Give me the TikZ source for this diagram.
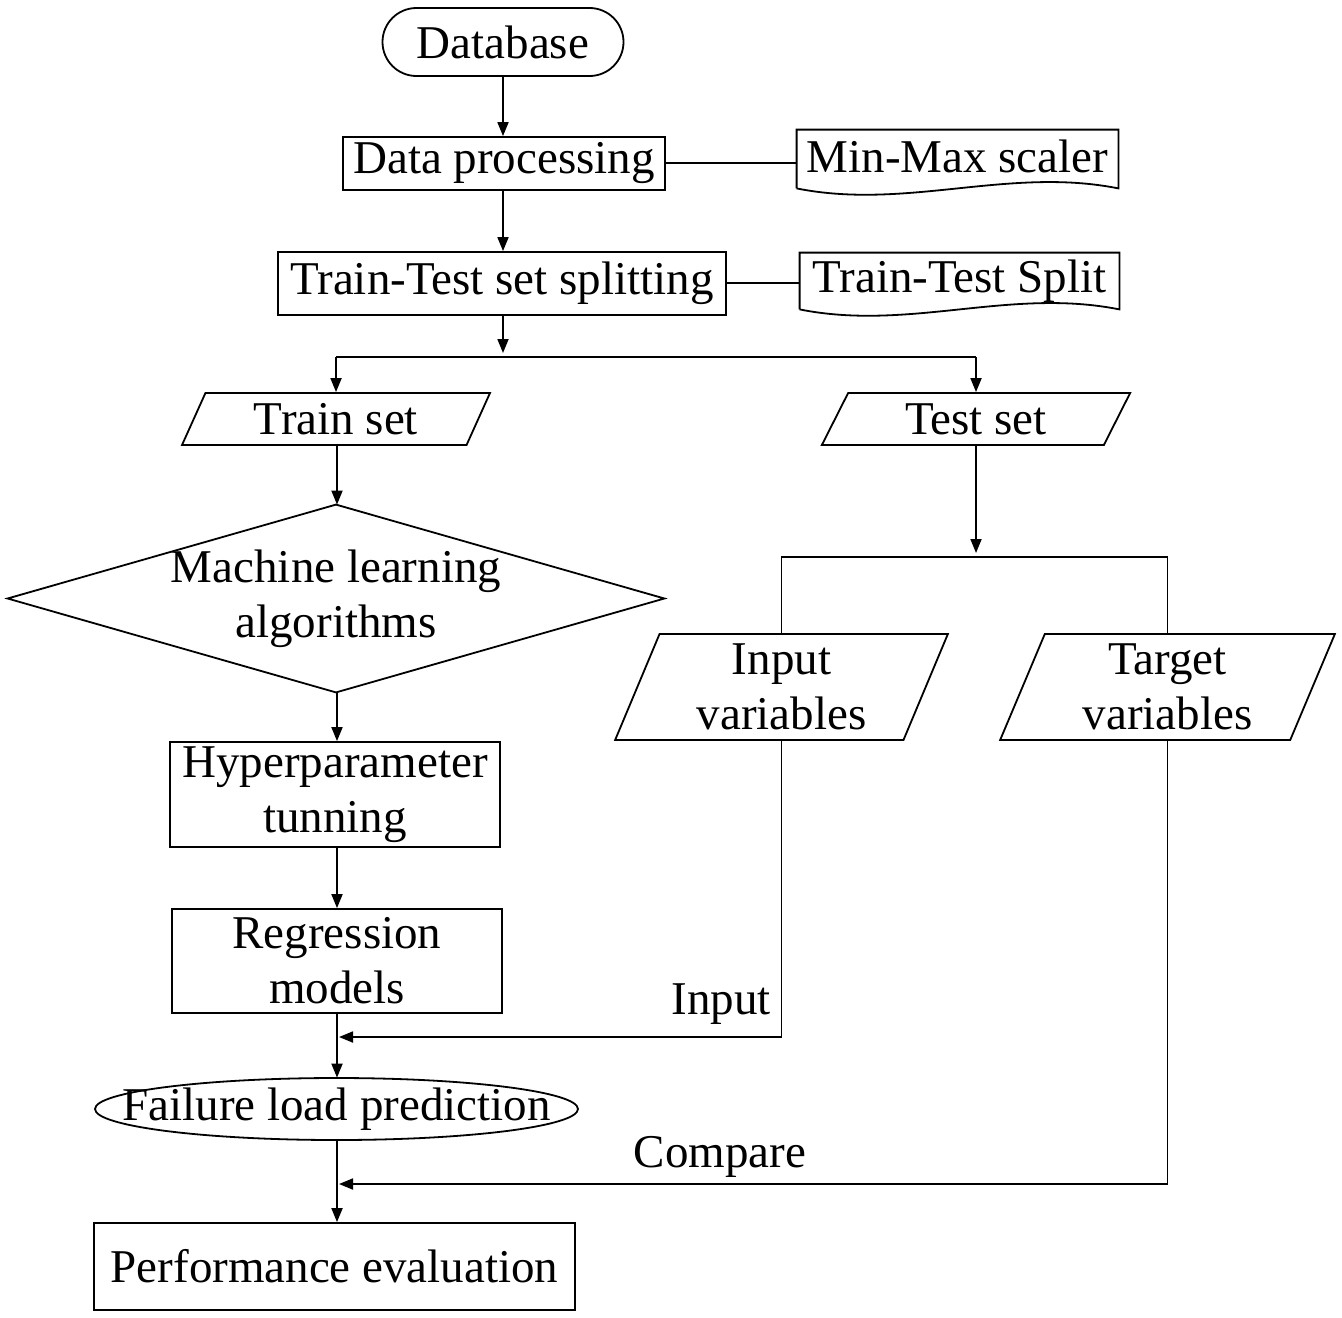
\documentclass[tikz,border=0pt]{standalone}
\usepackage{fontspec}
\setmainfont{Liberation Serif}
\usetikzlibrary{arrows.meta,shapes.geometric,calc}
\begin{document}
\begin{tikzpicture}[x=0.5pt,y=-0.5pt,
  every node/.style={font=\fontsize{23.5}{27.5}\selectfont, inner sep=0pt, align=center},
  lw/.style={line width=0.9pt},
  arr/.style={lw, -{Triangle[length=7pt,width=5.5pt]}},
  box/.style={draw, lw, rectangle},
  para/.style={draw, lw, trapezium, trapezium stretches=true},
  plain/.style={rectangle}
]
\useasboundingbox (0,0) rectangle (1342,1317);

% nodes
\node[draw, lw, rounded corners=17pt, minimum width=120.5pt, minimum height=34pt] (db) at (503,42) {Database};
\node[box, minimum width=161pt, minimum height=26.5pt] (dp) at (504,163.5) {Data processing};
\node[plain, minimum width=160.5pt, minimum height=29pt] (mm) at (957.5,159) {\raisebox{3pt}{Min-Max scaler}};
\node[box, minimum width=224pt, minimum height=31.5pt] (tts) at (502,283.5) {Train-Test set splitting};
\node[plain, minimum width=159.5pt, minimum height=28pt] (sp) at (959.5,281) {\raisebox{3pt}{Train-Test Split}};

\node[para, trapezium left angle=65, trapezium right angle=115, minimum width=154.5pt, minimum height=26pt] (train) at (336,419) {Train set};
\node[para, trapezium left angle=65, trapezium right angle=115, minimum width=154.5pt, minimum height=26pt] (test) at (976,419) {Test set};

\node[plain, minimum width=328pt, minimum height=93.5pt] (ml) at (336,598.5) {Machine learning\\algorithms};

\node[para, trapezium left angle=70.3, trapezium right angle=109.7, minimum width=166.5pt, minimum height=53pt] (inp) at (781.5,687) {Input\\variables};
\node[para, trapezium left angle=70.3, trapezium right angle=109.7, minimum width=167.5pt, minimum height=53pt] (tgt) at (1167.5,687) {Target\\variables};

\node[box, minimum width=165pt, minimum height=52.5pt] (hp) at (335,794.5) {Hyperparameter\\tunning};
\node[box, minimum width=165pt, minimum height=52pt] (reg) at (337,961) {Regression\\models};
\node[plain, minimum width=241.5pt, minimum height=31pt] (fl) at (336.5,1109) {Failure load prediction};
\node[box, minimum width=240.5pt, minimum height=43.5pt] (pe) at (334.5,1266.5) {Performance evaluation};

\node (lin) at (721,1004) {Input};
\node (lcmp) at (720,1157) {Compare};

% ellipse outline
\draw[lw] (fl.center) ellipse [x radius=120.75pt, y radius=15.5pt];

% document shapes
\draw[lw] (mm.south west) -- (mm.north west) -- (mm.north east) -- (mm.south east)
  .. controls ++(-110,-22) and ++(110,22) .. (mm.south west);
\draw[lw] (sp.south west) -- (sp.north west) -- (sp.north east) -- (sp.south east)
  .. controls ++(-110,-22) and ++(110,22) .. (sp.south west);

% diamond
\draw[lw] (ml.north) -- (ml.east) -- (ml.south) -- (ml.west) -- cycle;

% coordinates
\coordinate (a) at (337,0);
\coordinate (j1) at (503,357);
\coordinate (j2) at (977,557);
\coordinate (c1) at (339,1037);
\coordinate (c2) at (339,1184);

% connectors
\draw[arr] (db.south) -- (db.south |- dp.north);
\draw[lw] (dp.east |- 0,163) -- (mm.west |- 0,163);
\draw[arr] (db.south |- dp.south) -- (db.south |- tts.north);
\draw[lw] (tts.east |- 0,283) -- (sp.west |- 0,283);
\draw[arr] (db.south |- tts.south) -- ([yshift=2pt]j1);
\draw[lw] (train.north |- j1) -- (test.north |- j1);
\draw[arr] (train.north |- j1) -- (train.north);
\draw[arr] (test.north |- j1) -- (test.north);
\draw[arr] (a |- train.south) -- (a |- ml.north);
\draw[arr] (a |- ml.south) -- (a |- hp.north);
\draw[arr] (a |- hp.south) -- (a |- reg.north);
\draw[arr] (a |- reg.south) -- (a |- fl.north);
\draw[arr] (a |- fl.south) -- (a |- pe.north);

\draw[arr] (test.south) -- ([yshift=2pt]j2 -| test.south);
\draw[lw] (inp.north) -- (inp.north |- j2) -- (tgt.north |- j2) -- (tgt.north);
\draw[arr] (inp.south) -- (inp.south |- c1) -- (c1);
\draw[arr] (tgt.south) -- (tgt.south |- c2) -- (c2);
\end{tikzpicture}
\end{document}
